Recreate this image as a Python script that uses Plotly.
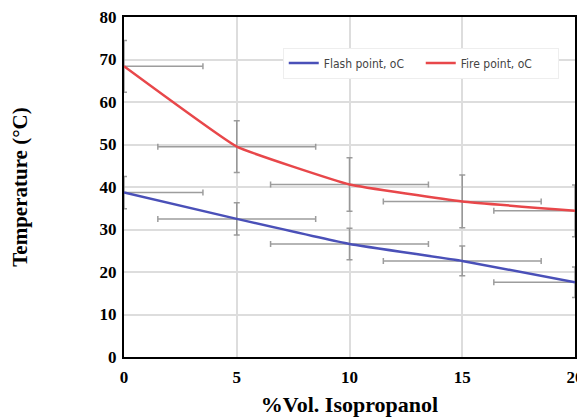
import plotly.graph_objects as go

x_pct = [0, 5, 10, 15, 20]
flash = [38.7, 32.5, 26.6, 22.6, 17.6]
fire = [68.4, 49.5, 40.6, 36.6, 34.4]
flash_err_y = [3.8, 3.8, 3.7, 3.5, 3.6]
fire_err_y = [6.1, 6.1, 6.3, 6.2, 6.1]
x_err = [3.5, 3.5, 3.5, 3.5, 3.6]

x_ticks = [0, 5, 10, 15, 20]
y_ticks = [0, 10, 20, 30, 40, 50, 60, 70, 80]

err_color = "rgba(140,140,140,0.85)"

fig = go.Figure()
for ys, ey in [(flash, flash_err_y), (fire, fire_err_y)]:
    fig.add_trace(go.Scatter(
        x=x_pct, y=ys, mode="markers", marker=dict(size=1, opacity=0),
        showlegend=False, hoverinfo="skip",
        error_x=dict(type="data", array=x_err, color=err_color, thickness=1.5, width=3),
        error_y=dict(type="data", array=ey, color=err_color, thickness=1.5, width=3),
    ))

fig.add_trace(go.Scatter(x=x_pct, y=flash, mode="lines", name="Flash point, oC",
                         line=dict(color="#4a50b8", width=2.5, shape="spline", smoothing=0.3)))
fig.add_trace(go.Scatter(x=x_pct, y=fire, mode="lines", name="Fire point, oC",
                         line=dict(color="#e8474a", width=2.5, shape="spline", smoothing=0.3)))

serif = "Liberation Serif, Times New Roman, serif"
# the page body has an 8px default margin, so the figure is sized/margined to compensate
fig.update_layout(
    width=577, height=409,
    margin=dict(l=116, r=10, t=9, b=60),
    paper_bgcolor="white", plot_bgcolor="white",
    font=dict(family=serif),
    legend=dict(orientation="h", x=0.352, y=0.91, xanchor="left", yanchor="top",
                bgcolor="white", bordercolor="#eeeeee", borderwidth=1,
                font=dict(family="DejaVu Sans Condensed, DejaVu Sans, sans-serif", size=12, color="#444"),
                itemwidth=30, entrywidth=92, tracegroupgap=0),
    xaxis=dict(range=[0, 20], tickvals=x_ticks, ticktext=[str(v) for v in x_ticks],
               showgrid=True, gridcolor="#dddddd", gridwidth=1.5, zeroline=False,
               showline=True, mirror=True, linecolor="black", linewidth=2,
               ticks="", automargin=False, ticklabelstandoff=4, ticklabeloverflow="allow",
               tickfont=dict(family=serif, size=17, color="black", weight="bold"),
               title=dict(text="<b>%Vol. Isopropanol</b>", font=dict(family=serif, size=22, color="black"), standoff=12)),
    yaxis=dict(range=[0, 80], tickvals=y_ticks, ticktext=[str(v) for v in y_ticks],
               showgrid=True, gridcolor="#dddddd", gridwidth=1.5, zeroline=False,
               showline=True, mirror=True, linecolor="black", linewidth=2,
               ticks="", automargin=False, ticklabelstandoff=2, ticklabeloverflow="allow",
               tickfont=dict(family=serif, size=17, color="black", weight="bold"),
               title=dict(text="<b>Temperature (°C)</b>", font=dict(family=serif, size=21, color="black"), standoff=68)),
)
fig.write_html("out.html")
